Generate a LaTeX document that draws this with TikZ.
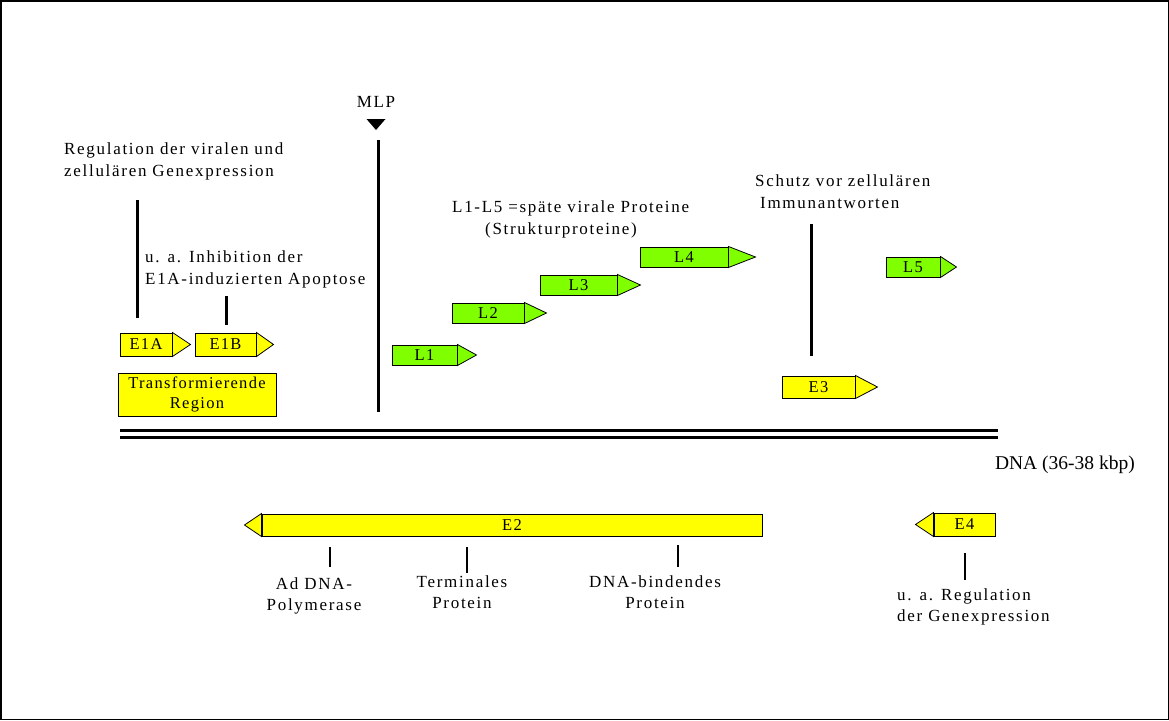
\documentclass[tikz,border=0pt]{standalone}
\usepackage{fontspec}
\setmainfont{Liberation Serif}
\newfontfamily\lsp{Liberation Serif}[LetterSpace=10]
\newfontfamily\lsb{Liberation Serif}[LetterSpace=8]
\usetikzlibrary{calc}
\definecolor{gyellow}{HTML}{FFFF00}
\definecolor{ggreen}{HTML}{80FF00}
\newcommand\rtip[3]{\draw[fill=#3, line width=0.8pt, line join=miter] (#1.north east) -- ($(#1.east)+(#2,0)$) -- (#1.south east) -- cycle;}
\newcommand\ltip[3]{\draw[fill=#3, line width=0.8pt, line join=miter] (#1.north west) -- ($(#1.west)-(#2,0)$) -- (#1.south west) -- cycle;}
\begin{document}
\begin{tikzpicture}[x=1pt,y=-1pt,
  lbl/.style={font=\lsp\fontsize{17}{21.5}\selectfont, inner sep=0pt},
  gene/.style={draw, line width=1pt, inner sep=0pt, font=\lsb\fontsize{16.5}{18}\selectfont},
  ygene/.style={gene, fill=gyellow, minimum height=22pt},
  ggene/.style={gene, fill=ggreen, minimum height=20pt},
  conn/.style={line width=3pt},
  tick/.style={line width=2.5pt}]
\useasboundingbox (0,0) rectangle (1169,720);
\draw[line width=1.5pt] (0.75,0.75) rectangle (1168.25,719.25);

% DNA
\coordinate (dnaA1) at (120,430); \coordinate (dnaB1) at (998,430);
\coordinate (dnaA2) at (120,437); \coordinate (dnaB2) at (998,437);
\draw[line width=3pt] (dnaA1) -- (dnaB1);
\draw[line width=3pt] (dnaA2) -- (dnaB2);
\node[font=\fontsize{19.5}{22}\selectfont, inner sep=0pt, anchor=east] (dna) at (1135,465) {DNA (36-38 kbp)};

% early region E1
\node[ygene, minimum width=52pt, minimum height=23pt] (e1a) at (146,344.5) {E1A};
\rtip{e1a}{18}{gyellow}
\node[ygene, minimum width=61pt, minimum height=23pt] (e1b) at (225.5,344.5) {E1B};
\rtip{e1b}{17}{gyellow}
\node[gene, fill=gyellow, minimum width=158pt, minimum height=43pt, align=center, font=\lsb\fontsize{16.5}{20}\selectfont] (trans) at (197,394.5) {Transformierende\\Region};

\node[lbl, anchor=north west, align=left] (reg) at (64,143) {Regulation der viralen und\\zellulären Genexpression};
\node[lbl, anchor=north west, align=left] (inh) at (145,251) {u. a. Inhibition der\\E1A-induzierten Apoptose};
\coordinate (regc) at (137,200); \coordinate (e1ac) at (137,318);
\draw[conn] (regc) -- (e1ac);
\coordinate (inhc) at (226,296); \coordinate (e1bc) at (226,325);
\draw[conn] (inhc) -- (e1bc);

% MLP
\node[lbl, anchor=north] (mlp) at (376,96) {MLP};
\coordinate (mlpt) at (376,130);
\fill (mlpt) -- ++(-9.5,-11) -- ++(19,0) -- cycle;
\coordinate (mlp1) at (378,140); \coordinate (mlp2) at (378,412);
\draw[conn] (mlp1) -- (mlp2);

% late genes
\node[ggene, minimum width=65pt] (l1) at (424.5,355) {L1};
\rtip{l1}{19}{ggreen}
\node[ggene, minimum width=72pt] (l2) at (488,313) {L2};
\rtip{l2}{22}{ggreen}
\node[ggene, minimum width=77pt] (l3) at (578.5,285) {L3};
\rtip{l3}{23}{ggreen}
\node[ggene, minimum width=88pt] (l4) at (684,257) {L4};
\rtip{l4}{27}{ggreen}
\node[ggene, minimum width=54pt] (l5) at (913,267) {L5};
\rtip{l5}{16}{ggreen}
\node[lbl, anchor=north west, align=left] (late) at (452,201) {L1-L5 =späte virale Proteine\\\hspace*{33pt}(Strukturproteine)};

% E3
\node[ygene, minimum width=73pt] (e3) at (818.5,387) {E3};
\rtip{e3}{22}{gyellow}
\node[lbl, anchor=north west, align=left] (schutz) at (755,175) {Schutz vor zellulären\\\hspace*{5pt}Immunantworten};
\coordinate (s1) at (811,224); \coordinate (s2) at (811,356);
\draw[conn] (s1) -- (s2);

% E2
\node[ygene, minimum width=500pt] (e2) at (512,525) {E2};
\ltip{e2}{17}{gyellow}
\coordinate (t1a) at (330,547); \coordinate (t1b) at (330,567);
\coordinate (t2a) at (467,547); \coordinate (t2b) at (467,573);
\coordinate (t3a) at (678,545); \coordinate (t3b) at (678,567);
\draw[tick] (t1a) -- (t1b);
\draw[tick] (t2a) -- (t2b);
\draw[tick] (t3a) -- (t3b);
\node[lbl, anchor=north, align=center] (pol) at (314,577) {Ad DNA-\\Polymerase};
\node[lbl, anchor=north, align=center] (term) at (462,575) {Terminales\\Protein};
\node[lbl, anchor=north, align=center] (dbp) at (655,575) {DNA-bindendes\\Protein};

% E4
\node[ygene, minimum width=61pt, minimum height=23pt] (e4) at (964.5,524.5) {E4};
\ltip{e4}{18}{gyellow}
\coordinate (t4a) at (965,553); \coordinate (t4b) at (965,580);
\draw[tick] (t4a) -- (t4b);
\node[lbl, anchor=north west, align=left] (e4reg) at (897,588) {u. a. Regulation\\der Genexpression};
\end{tikzpicture}
\end{document}
